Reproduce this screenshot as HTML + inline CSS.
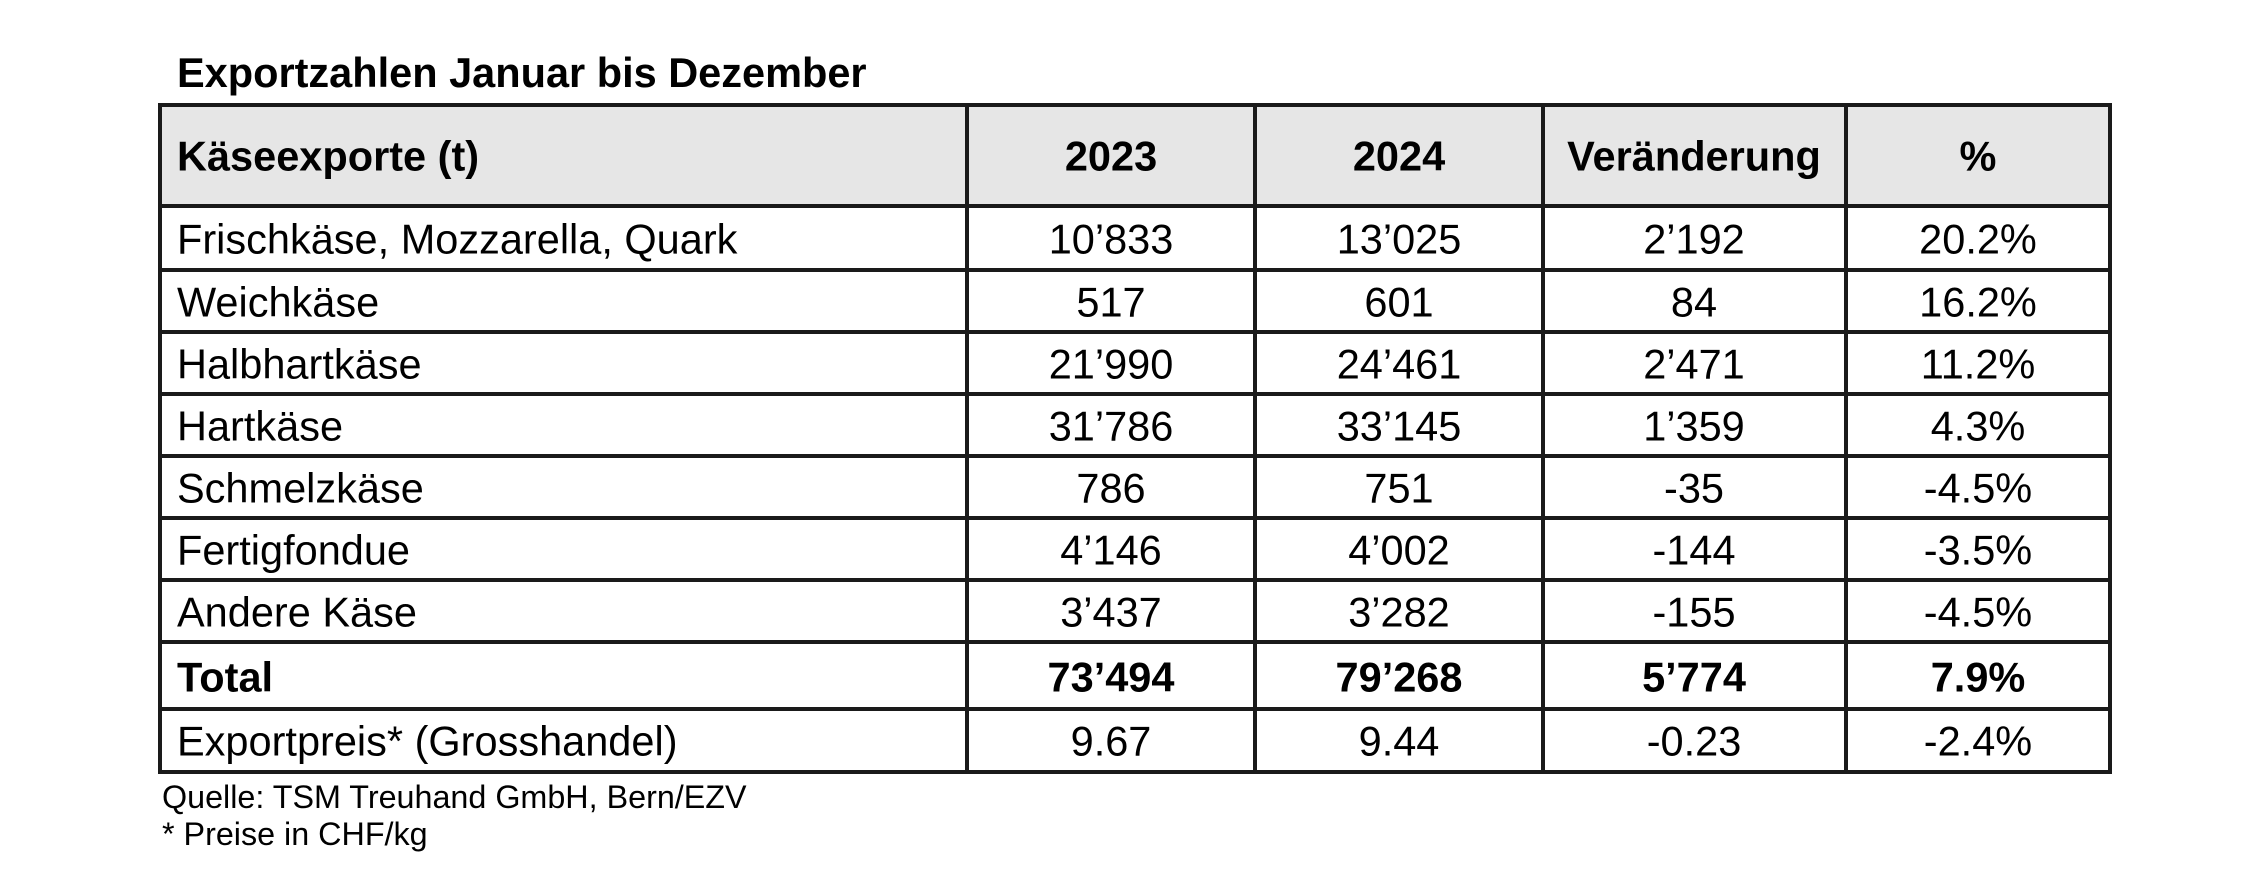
<!DOCTYPE html>
<html><head><meta charset="utf-8"><style>
html,body{margin:0;padding:0;background:#fff;}
svg{display:block;}
text{font-family:"Liberation Sans",Arial,sans-serif;fill:#000;}
.b{font-weight:bold;}
</style></head><body>
<svg width="2262" height="888" viewBox="0 0 2262 888" xmlns="http://www.w3.org/2000/svg">
<text x="177" y="87" font-size="41.5" class="b">Exportzahlen Januar bis Dezember</text>
<rect x="160" y="105" width="1950" height="101" fill="#e6e6e6"/>
<g stroke="#1a1a1a" stroke-width="4">
<line x1="158" y1="105" x2="2112" y2="105"/>
<line x1="158" y1="206" x2="2112" y2="206"/>
<line x1="158" y1="270" x2="2112" y2="270"/>
<line x1="158" y1="332" x2="2112" y2="332"/>
<line x1="158" y1="394" x2="2112" y2="394"/>
<line x1="158" y1="456" x2="2112" y2="456"/>
<line x1="158" y1="518" x2="2112" y2="518"/>
<line x1="158" y1="580" x2="2112" y2="580"/>
<line x1="158" y1="642" x2="2112" y2="642"/>
<line x1="158" y1="709" x2="2112" y2="709"/>
<line x1="158" y1="772" x2="2112" y2="772"/>
<line x1="160" y1="103" x2="160" y2="774"/>
<line x1="967" y1="103" x2="967" y2="774"/>
<line x1="1255" y1="103" x2="1255" y2="774"/>
<line x1="1543" y1="103" x2="1543" y2="774"/>
<line x1="1846" y1="103" x2="1846" y2="774"/>
<line x1="2110" y1="103" x2="2110" y2="774"/>
</g>
<g font-size="41.5" dominant-baseline="central">
<g class="b">
<text x="177" y="156">Käseexporte (t)</text>
<text x="1111" y="156" text-anchor="middle">2023</text>
<text x="1399" y="156" text-anchor="middle">2024</text>
<text x="1694" y="156" text-anchor="middle">Veränderung</text>
<text x="1978" y="156" text-anchor="middle">%</text>
</g>
<text x="177" y="239">Frischkäse, Mozzarella, Quark</text>
<text x="1111" y="239" text-anchor="middle">10’833</text>
<text x="1399" y="239" text-anchor="middle">13’025</text>
<text x="1694" y="239" text-anchor="middle">2’192</text>
<text x="1978" y="239" text-anchor="middle">20.2%</text>

<text x="177" y="302">Weichkäse</text>
<text x="1111" y="302" text-anchor="middle">517</text>
<text x="1399" y="302" text-anchor="middle">601</text>
<text x="1694" y="302" text-anchor="middle">84</text>
<text x="1978" y="302" text-anchor="middle">16.2%</text>

<text x="177" y="364">Halbhartkäse</text>
<text x="1111" y="364" text-anchor="middle">21’990</text>
<text x="1399" y="364" text-anchor="middle">24’461</text>
<text x="1694" y="364" text-anchor="middle">2’471</text>
<text x="1978" y="364" text-anchor="middle">11.2%</text>

<text x="177" y="426">Hartkäse</text>
<text x="1111" y="426" text-anchor="middle">31’786</text>
<text x="1399" y="426" text-anchor="middle">33’145</text>
<text x="1694" y="426" text-anchor="middle">1’359</text>
<text x="1978" y="426" text-anchor="middle">4.3%</text>

<text x="177" y="488">Schmelzkäse</text>
<text x="1111" y="488" text-anchor="middle">786</text>
<text x="1399" y="488" text-anchor="middle">751</text>
<text x="1694" y="488" text-anchor="middle">-35</text>
<text x="1978" y="488" text-anchor="middle">-4.5%</text>

<text x="177" y="550">Fertigfondue</text>
<text x="1111" y="550" text-anchor="middle">4’146</text>
<text x="1399" y="550" text-anchor="middle">4’002</text>
<text x="1694" y="550" text-anchor="middle">-144</text>
<text x="1978" y="550" text-anchor="middle">-3.5%</text>

<text x="177" y="612">Andere Käse</text>
<text x="1111" y="612" text-anchor="middle">3’437</text>
<text x="1399" y="612" text-anchor="middle">3’282</text>
<text x="1694" y="612" text-anchor="middle">-155</text>
<text x="1978" y="612" text-anchor="middle">-4.5%</text>

<g class="b">
<text x="177" y="677">Total</text>
<text x="1111" y="677" text-anchor="middle">73’494</text>
<text x="1399" y="677" text-anchor="middle">79’268</text>
<text x="1694" y="677" text-anchor="middle">5’774</text>
<text x="1978" y="677" text-anchor="middle">7.9%</text>
</g>

<text x="177" y="741">Exportpreis* (Grosshandel)</text>
<text x="1111" y="741" text-anchor="middle">9.67</text>
<text x="1399" y="741" text-anchor="middle">9.44</text>
<text x="1694" y="741" text-anchor="middle">-0.23</text>
<text x="1978" y="741" text-anchor="middle">-2.4%</text>
</g>
<text x="162" y="808" font-size="32.3">Quelle: TSM Treuhand GmbH, Bern/EZV</text>
<text x="162" y="845" font-size="32.3">* Preise in CHF/kg</text>
</svg>
</body></html>
